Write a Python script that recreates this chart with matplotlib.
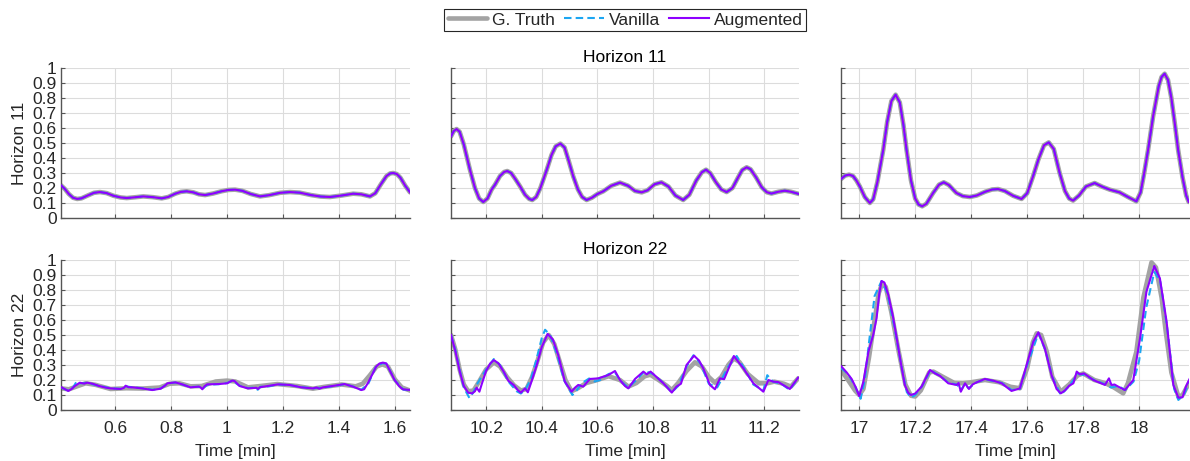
import matplotlib
matplotlib.use("Agg")
import matplotlib.pyplot as plt

plt.rcParams['font.family'] = ['Liberation Sans', 'DejaVu Sans']

# ---------------- data (time [min], value) ----------------
# Horizon 11 (top row): predictions coincide with ground truth
h11_left_truth = [
    (0.407, 0.218), (0.42, 0.195), (0.435, 0.16), (0.45, 0.135), (0.465, 0.127),
    (0.48, 0.131), (0.505, 0.152), (0.525, 0.168), (0.546, 0.173), (0.57, 0.166),
    (0.595, 0.148), (0.62, 0.137), (0.642, 0.133), (0.67, 0.138), (0.701, 0.144),
    (0.735, 0.139), (0.767, 0.131), (0.79, 0.14), (0.815, 0.162), (0.835, 0.174),
    (0.856, 0.178), (0.88, 0.171), (0.9, 0.158), (0.922, 0.153), (0.95, 0.163),
    (0.98, 0.178), (1.005, 0.187), (1.029, 0.189), (1.055, 0.181), (1.085, 0.16),
    (1.118, 0.144), (1.15, 0.152), (1.19, 0.168), (1.225, 0.173), (1.26, 0.169),
    (1.3, 0.153), (1.335, 0.143), (1.368, 0.140), (1.41, 0.150), (1.451, 0.162),
    (1.48, 0.158), (1.511, 0.144), (1.53, 0.165), (1.55, 0.225), (1.57, 0.28),
    (1.583, 0.297), (1.594, 0.300), (1.607, 0.293), (1.62, 0.268), (1.637, 0.215),
    (1.654, 0.171),
]
h11_left_vanilla = h11_left_truth
h11_left_augmented = h11_left_truth

h11_mid_truth = [
    (10.074, 0.544), (10.084, 0.58), (10.094, 0.593), (10.105, 0.575), (10.12, 0.49),
    (10.142, 0.322), (10.16, 0.2), (10.175, 0.13), (10.19, 0.107), (10.205, 0.13),
    (10.22, 0.19), (10.232, 0.222), (10.25, 0.28), (10.265, 0.307), (10.276, 0.313),
    (10.29, 0.3), (10.305, 0.26), (10.322, 0.211), (10.34, 0.155), (10.355, 0.127),
    (10.366, 0.12), (10.38, 0.14), (10.395, 0.2), (10.418, 0.322), (10.435, 0.42),
    (10.45, 0.478), (10.467, 0.496), (10.482, 0.47), (10.497, 0.38), (10.513, 0.278),
    (10.53, 0.19), (10.545, 0.14), (10.561, 0.12), (10.58, 0.135), (10.6, 0.16),
    (10.621, 0.178), (10.65, 0.215), (10.681, 0.236), (10.71, 0.215), (10.735, 0.18),
    (10.759, 0.171), (10.78, 0.185), (10.805, 0.225), (10.83, 0.238), (10.855, 0.21),
    (10.88, 0.15), (10.908, 0.12), (10.93, 0.155), (10.955, 0.25), (10.975, 0.305),
    (10.99, 0.322), (11.005, 0.3), (11.025, 0.24), (11.045, 0.19), (11.064, 0.173),
    (11.085, 0.2), (11.105, 0.27), (11.12, 0.32), (11.136, 0.338), (11.15, 0.325),
    (11.17, 0.27), (11.19, 0.205), (11.208, 0.172), (11.225, 0.163), (11.25, 0.175),
    (11.273, 0.182), (11.295, 0.175), (11.324, 0.16),
]
h11_mid_vanilla = h11_mid_truth
h11_mid_augmented = h11_mid_truth

h11_right_truth = [
    (16.935, 0.26), (16.95, 0.283), (16.964, 0.289), (16.978, 0.28), (16.99, 0.25),
    (17.002, 0.211), (17.02, 0.14), (17.038, 0.1), (17.05, 0.125), (17.065, 0.24),
    (17.086, 0.456), (17.1, 0.64), (17.115, 0.78), (17.13, 0.822), (17.145, 0.77),
    (17.158, 0.62), (17.169, 0.456), (17.185, 0.25), (17.2, 0.13), (17.212, 0.09),
    (17.225, 0.078), (17.24, 0.095), (17.25, 0.125), (17.264, 0.167), (17.285, 0.222),
    (17.302, 0.238), (17.32, 0.22), (17.347, 0.167), (17.37, 0.146), (17.395, 0.14),
    (17.42, 0.15), (17.45, 0.175), (17.475, 0.19), (17.496, 0.193), (17.52, 0.18),
    (17.55, 0.148), (17.58, 0.127), (17.6, 0.165), (17.621, 0.278), (17.64, 0.39),
    (17.66, 0.485), (17.677, 0.504), (17.695, 0.46), (17.716, 0.3), (17.735, 0.18),
    (17.75, 0.13), (17.764, 0.116), (17.785, 0.15), (17.81, 0.21), (17.841, 0.233),
    (17.87, 0.207), (17.895, 0.189), (17.93, 0.171), (17.96, 0.14), (17.99, 0.111),
    (18.005, 0.17), (18.018, 0.3), (18.032, 0.456), (18.05, 0.68), (18.07, 0.88),
    (18.08, 0.94), (18.091, 0.962), (18.103, 0.92), (18.115, 0.8), (18.128, 0.62),
    (18.139, 0.456), (18.155, 0.27), (18.168, 0.15), (18.177, 0.107),
]
h11_right_vanilla = h11_right_truth
h11_right_augmented = h11_right_truth

# Horizon 22 (bottom row)
h22_left_truth = [
    (0.409, 0.144), (0.435, 0.138), (0.46, 0.155), (0.495, 0.178), (0.53, 0.168),
    (0.584, 0.14), (0.64, 0.145), (0.7, 0.143), (0.76, 0.15), (0.795, 0.175),
    (0.83, 0.178), (0.87, 0.158), (0.91, 0.16), (0.96, 0.19), (1.0, 0.196),
    (1.03, 0.19), (1.075, 0.151), (1.12, 0.16), (1.18, 0.173), (1.25, 0.16),
    (1.307, 0.142), (1.35, 0.155), (1.41, 0.17), (1.46, 0.158), (1.485, 0.175),
    (1.51, 0.23), (1.535, 0.29), (1.555, 0.304), (1.575, 0.29), (1.6, 0.204),
    (1.625, 0.15), (1.658, 0.127),
]
h22_left_vanilla = [
    (0.409, 0.148), (0.425, 0.135), (0.435, 0.128), (0.45, 0.15), (0.463, 0.19),
    (0.475, 0.178), (0.5, 0.181), (0.54, 0.162), (0.584, 0.145), (0.62, 0.141),
    (0.638, 0.158), (0.66, 0.152), (0.7, 0.145), (0.735, 0.135), (0.765, 0.145),
    (0.79, 0.178), (0.815, 0.183), (0.84, 0.17), (0.87, 0.153), (0.9, 0.155),
    (0.912, 0.14), (0.93, 0.168), (0.97, 0.172), (1.0, 0.18), (1.02, 0.195),
    (1.045, 0.162), (1.075, 0.146), (1.1, 0.15), (1.11, 0.135), (1.12, 0.155),
    (1.15, 0.158), (1.18, 0.17), (1.225, 0.166), (1.265, 0.152), (1.31, 0.145),
    (1.345, 0.15), (1.385, 0.16), (1.42, 0.172), (1.45, 0.157), (1.48, 0.135),
    (1.505, 0.175), (1.53, 0.282), (1.555, 0.312), (1.57, 0.308), (1.6, 0.198),
    (1.63, 0.136), (1.658, 0.13),
]
h22_left_augmented = [
    (0.409, 0.151), (0.42, 0.14), (0.433, 0.127), (0.445, 0.14), (0.455, 0.158),
    (0.474, 0.182), (0.49, 0.176), (0.501, 0.182), (0.52, 0.175), (0.543, 0.16),
    (0.565, 0.15), (0.584, 0.144), (0.62, 0.14), (0.632, 0.148), (0.638, 0.162),
    (0.648, 0.152), (0.662, 0.151), (0.697, 0.144), (0.733, 0.133), (0.763, 0.142),
    (0.78, 0.165), (0.787, 0.178), (0.816, 0.184), (0.84, 0.171), (0.87, 0.151),
    (0.9, 0.156), (0.906, 0.15), (0.912, 0.138), (0.92, 0.158), (0.929, 0.171),
    (0.971, 0.173), (1.001, 0.178), (1.012, 0.19), (1.019, 0.196), (1.027, 0.193),
    (1.045, 0.16), (1.075, 0.144), (1.105, 0.148), (1.111, 0.14), (1.118, 0.152),
    (1.146, 0.16), (1.182, 0.171), (1.224, 0.167), (1.265, 0.151), (1.307, 0.144),
    (1.32, 0.15), (1.33, 0.142), (1.343, 0.151), (1.384, 0.162), (1.42, 0.173),
    (1.45, 0.156), (1.48, 0.133), (1.49, 0.138), (1.503, 0.178), (1.52, 0.24),
    (1.533, 0.289), (1.545, 0.31), (1.557, 0.316), (1.569, 0.311), (1.58, 0.27),
    (1.599, 0.2), (1.615, 0.16), (1.628, 0.138), (1.658, 0.133),
]

h22_mid_truth = [
    (10.074, 0.50), (10.09, 0.40), (10.105, 0.27), (10.12, 0.17), (10.136, 0.125),
    (10.155, 0.13), (10.175, 0.19), (10.2, 0.27), (10.228, 0.318), (10.25, 0.29),
    (10.275, 0.22), (10.3, 0.165), (10.325, 0.13), (10.345, 0.14), (10.365, 0.22),
    (10.385, 0.33), (10.405, 0.45), (10.425, 0.5), (10.445, 0.44), (10.465, 0.32),
    (10.485, 0.2), (10.507, 0.125), (10.53, 0.145), (10.56, 0.18), (10.6, 0.2),
    (10.64, 0.225), (10.681, 0.2), (10.711, 0.156), (10.74, 0.18), (10.77, 0.225),
    (10.79, 0.235), (10.82, 0.2), (10.85, 0.16), (10.867, 0.133), (10.89, 0.18),
    (10.92, 0.26), (10.95, 0.318), (10.975, 0.29), (11.0, 0.22), (11.022, 0.182),
    (11.045, 0.22), (11.07, 0.3), (11.09, 0.344), (11.11, 0.32), (11.14, 0.24),
    (11.18, 0.178), (11.21, 0.178), (11.235, 0.189), (11.27, 0.175), (11.295, 0.156),
    (11.321, 0.211),
]
h22_mid_vanilla = [
    (10.074, 0.50), (10.09, 0.40), (10.105, 0.27), (10.12, 0.15), (10.14, 0.08),
    (10.155, 0.12), (10.17, 0.18), (10.2, 0.27), (10.228, 0.34), (10.25, 0.30),
    (10.28, 0.19), (10.31, 0.125), (10.325, 0.11), (10.34, 0.135), (10.36, 0.2),
    (10.38, 0.33), (10.4, 0.48), (10.412, 0.535), (10.43, 0.5), (10.455, 0.37),
    (10.48, 0.2), (10.51, 0.1), (10.525, 0.13), (10.545, 0.18), (10.57, 0.21),
    (10.59, 0.19), (10.61, 0.2), (10.64, 0.24), (10.663, 0.25), (10.685, 0.19),
    (10.711, 0.15), (10.74, 0.2), (10.77, 0.26), (10.8, 0.24), (10.84, 0.175),
    (10.867, 0.118), (10.89, 0.16), (10.92, 0.29), (10.945, 0.365), (10.97, 0.31),
    (11.0, 0.175), (11.03, 0.15), (11.045, 0.2), (11.07, 0.29), (11.1, 0.36),
    (11.13, 0.27), (11.16, 0.17), (11.196, 0.13), (11.21, 0.232), (11.23, 0.19),
    (11.26, 0.175), (11.29, 0.135), (11.321, 0.21),
]
h22_mid_augmented = [
    (10.074, 0.50), (10.09, 0.39), (10.105, 0.26), (10.12, 0.16), (10.136, 0.115),
    (10.15, 0.111), (10.16, 0.125), (10.166, 0.149), (10.176, 0.122), (10.184, 0.17),
    (10.2, 0.26), (10.215, 0.31), (10.228, 0.333), (10.245, 0.31), (10.265, 0.25),
    (10.28, 0.195), (10.3, 0.165), (10.315, 0.13), (10.325, 0.116), (10.34, 0.144),
    (10.35, 0.118), (10.365, 0.2), (10.382, 0.3), (10.4, 0.42), (10.421, 0.507),
    (10.44, 0.47), (10.459, 0.367), (10.483, 0.189), (10.507, 0.122), (10.52, 0.15),
    (10.531, 0.167), (10.549, 0.156), (10.573, 0.207), (10.603, 0.211), (10.639, 0.233),
    (10.663, 0.26), (10.681, 0.2), (10.699, 0.16), (10.711, 0.144), (10.735, 0.207),
    (10.765, 0.256), (10.777, 0.238), (10.791, 0.256), (10.837, 0.178), (10.867, 0.116),
    (10.884, 0.156), (10.9, 0.175), (10.92, 0.3), (10.947, 0.362), (10.965, 0.33),
    (10.98, 0.278), (11.004, 0.167), (11.022, 0.138), (11.04, 0.211), (11.055, 0.205),
    (11.09, 0.36), (11.124, 0.278), (11.16, 0.178), (11.196, 0.122), (11.214, 0.2),
    (11.232, 0.189), (11.25, 0.186), (11.291, 0.14), (11.321, 0.216),
]

h22_right_truth = [
    (16.935, 0.267), (16.96, 0.2), (16.985, 0.13), (17.0, 0.1), (17.015, 0.14),
    (17.035, 0.35), (17.055, 0.6), (17.07, 0.78), (17.082, 0.844), (17.095, 0.82),
    (17.115, 0.65), (17.14, 0.4), (17.165, 0.17), (17.185, 0.095), (17.2, 0.09),
    (17.22, 0.13), (17.25, 0.25), (17.265, 0.256), (17.3, 0.22), (17.34, 0.18),
    (17.37, 0.178), (17.4, 0.185), (17.449, 0.2), (17.5, 0.185), (17.54, 0.155),
    (17.574, 0.145), (17.6, 0.28), (17.62, 0.45), (17.634, 0.511), (17.65, 0.5),
    (17.67, 0.39), (17.69, 0.22), (17.72, 0.122), (17.75, 0.17), (17.78, 0.23),
    (17.8, 0.244), (17.84, 0.2), (17.88, 0.178), (17.91, 0.15), (17.943, 0.111),
    (17.96, 0.18), (17.99, 0.389), (18.015, 0.75), (18.044, 0.984), (18.06, 0.95),
    (18.08, 0.75), (18.095, 0.522), (18.115, 0.25), (18.14, 0.089), (18.155, 0.1),
    (18.181, 0.189),
]
h22_right_vanilla = [
    (16.935, 0.28), (16.96, 0.24), (16.985, 0.16), (17.005, 0.075), (17.02, 0.2),
    (17.035, 0.45), (17.055, 0.76), (17.08, 0.86), (17.1, 0.78), (17.125, 0.56),
    (17.15, 0.3), (17.17, 0.12), (17.185, 0.082), (17.2, 0.1), (17.225, 0.16),
    (17.255, 0.265), (17.29, 0.225), (17.32, 0.18), (17.35, 0.17), (17.362, 0.13),
    (17.378, 0.175), (17.39, 0.145), (17.42, 0.185), (17.45, 0.205), (17.51, 0.18),
    (17.545, 0.133), (17.574, 0.14), (17.6, 0.3), (17.64, 0.51), (17.665, 0.4),
    (17.69, 0.22), (17.72, 0.1), (17.75, 0.16), (17.78, 0.24), (17.8, 0.235),
    (17.84, 0.2), (17.88, 0.17), (17.9, 0.15), (17.925, 0.16), (17.95, 0.133),
    (17.98, 0.19), (18.0, 0.33), (18.025, 0.68), (18.054, 0.92), (18.075, 0.86),
    (18.1, 0.55), (18.125, 0.14), (18.14, 0.067), (18.16, 0.1), (18.181, 0.2),
]
h22_right_augmented = [
    (16.935, 0.293), (16.955, 0.251), (16.973, 0.207), (16.988, 0.15), (17.0, 0.093),
    (17.015, 0.189), (17.033, 0.389), (17.05, 0.5), (17.062, 0.611), (17.072, 0.78),
    (17.08, 0.86), (17.09, 0.85), (17.104, 0.767), (17.12, 0.63), (17.134, 0.478),
    (17.15, 0.3), (17.163, 0.167), (17.175, 0.115), (17.185, 0.1), (17.2, 0.11),
    (17.223, 0.156), (17.24, 0.22), (17.253, 0.267), (17.27, 0.245), (17.289, 0.227),
    (17.318, 0.178), (17.348, 0.167), (17.355, 0.18), (17.363, 0.122), (17.378, 0.178),
    (17.392, 0.14), (17.405, 0.17), (17.419, 0.184), (17.449, 0.207), (17.48, 0.195),
    (17.509, 0.178), (17.544, 0.127), (17.574, 0.144), (17.598, 0.3), (17.622, 0.456),
    (17.64, 0.518), (17.663, 0.411), (17.687, 0.233), (17.705, 0.14), (17.72, 0.111),
    (17.735, 0.13), (17.75, 0.162), (17.765, 0.178), (17.777, 0.256), (17.788, 0.238),
    (17.803, 0.244), (17.836, 0.2), (17.878, 0.167), (17.892, 0.211), (17.901, 0.167),
    (17.912, 0.17), (17.925, 0.156), (17.949, 0.133), (17.979, 0.2), (18.003, 0.478),
    (18.026, 0.789), (18.054, 0.96), (18.074, 0.878), (18.098, 0.589), (18.122, 0.167),
    (18.14, 0.082), (18.155, 0.085), (18.167, 0.156), (18.181, 0.211),
]

x_limits = [(0.407, 1.654), (10.074, 11.324), (16.935, 18.178)]
x_ticks = [[0.6, 0.8, 1.0, 1.2, 1.4, 1.6],
           [10.2, 10.4, 10.6, 10.8, 11.0, 11.2],
           [17.0, 17.2, 17.4, 17.6, 17.8, 18.0]]
x_tick_labels = [["0.6", "0.8", "1", "1.2", "1.4", "1.6"],
                 ["10.2", "10.4", "10.6", "10.8", "11", "11.2"],
                 ["17", "17.2", "17.4", "17.6", "17.8", "18"]]
y_ticks = [0, 0.1, 0.2, 0.3, 0.4, 0.5, 0.6, 0.7, 0.8, 0.9, 1.0]
y_tick_labels = ["0", "0.1", "0.2", "0.3", "0.4", "0.5", "0.6", "0.7", "0.8", "0.9", "1"]
row_names = ["Horizon 11", "Horizon 22"]
series_names = ["G. Truth", "Vanilla", "Augmented"]

panels = [
    [(h11_left_truth, h11_left_vanilla, h11_left_augmented),
     (h11_mid_truth, h11_mid_vanilla, h11_mid_augmented),
     (h11_right_truth, h11_right_vanilla, h11_right_augmented)],
    [(h22_left_truth, h22_left_vanilla, h22_left_augmented),
     (h22_mid_truth, h22_mid_vanilla, h22_mid_augmented),
     (h22_right_truth, h22_right_vanilla, h22_right_augmented)],
]

# ---------------- styling ----------------
C_TRUTH = '#a3a3a3'
C_VAN = '#1ca6f2'
C_AUG = '#8e00ff'
TXT = '#262626'
FS = 12.5

W, H = 1190, 461
fig = plt.figure(figsize=(W / 100, H / 100), dpi=100)


def rect(l, t, r, b):
    return [l / W, 1 - b / H, (r - l) / W, (b - t) / H]


cols_px = [(61, 410), (451, 799), (841, 1189)]
rows_px = [(68, 218), (260, 410)]

handles = None
for ri, (t, b) in enumerate(rows_px):
    for ci, (l, r) in enumerate(cols_px):
        ax = fig.add_axes(rect(l, t, r, b))
        truth, van, aug = panels[ri][ci]
        tx, ty = zip(*truth)
        vx, vy = zip(*van)
        axx, ayy = zip(*aug)
        h1, = ax.plot(tx, ty, color=C_TRUTH, lw=3.3, solid_joinstyle='round',
                      solid_capstyle='round', zorder=2)
        h2, = ax.plot(vx, vy, color=C_VAN, lw=1.5, linestyle=(0, (3.6, 2.0)), zorder=3)
        h3, = ax.plot(axx, ayy, color=C_AUG, lw=1.5, solid_joinstyle='round', zorder=4)
        handles = [h1, h2, h3]

        ax.set_xlim(*x_limits[ci])
        ax.set_ylim(0, 1)
        ax.set_xticks(x_ticks[ci])
        ax.set_yticks(y_ticks)
        if ri == 1:
            ax.set_xticklabels(x_tick_labels[ci])
            ax.set_xlabel("Time [min]", fontsize=FS, color=TXT, labelpad=6)
        else:
            ax.set_xticklabels([])
        if ci == 0:
            ax.set_yticklabels(y_tick_labels)
            ax.set_ylabel(row_names[ri], fontsize=FS, color=TXT, labelpad=4)
        else:
            ax.set_yticklabels([])
        if ci == 1:
            ax.set_title(row_names[ri], fontsize=FS, color='#000000', pad=4)

        ax.grid(True, color='#dcdcdc', lw=0.8)
        ax.set_axisbelow(True)
        for s in ['top', 'right']:
            ax.spines[s].set_visible(False)
        for s in ['left', 'bottom']:
            ax.spines[s].set_color('#555555')
            ax.spines[s].set_linewidth(1.0)
        ax.tick_params(axis='x', direction='in', length=3, width=0.8, color='#555555',
                       labelsize=FS, labelcolor=TXT, pad=8)
        ax.tick_params(axis='y', direction='in', length=3, width=0.8, color='#555555',
                       labelsize=FS, labelcolor=TXT, pad=3)

leg = fig.legend(handles, series_names, loc='center', ncol=3,
                 bbox_to_anchor=((451 + 799) / 2 / W, 1 - 20 / H),
                 fontsize=FS, handlelength=2.3, handletextpad=0.25,
                 columnspacing=0.55, borderpad=0.2, borderaxespad=0,
                 fancybox=False, framealpha=1, edgecolor='#262626')
leg.get_frame().set_linewidth(0.8)
for txt in leg.get_texts():
    txt.set_color(TXT)

fig.savefig("out.png", dpi=100)
